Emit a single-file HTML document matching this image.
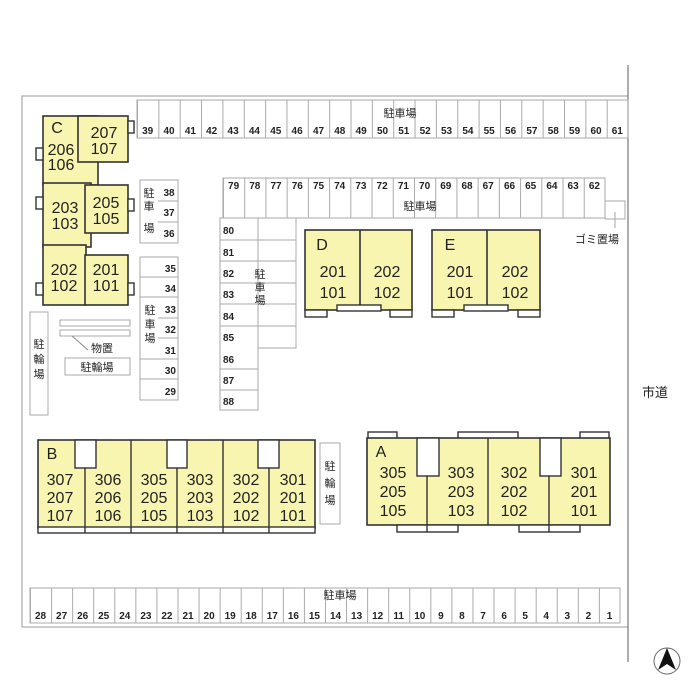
<!DOCTYPE html>
<html><head><meta charset="utf-8"><style>
html,body{margin:0;padding:0;background:#fff;}
svg{display:block;}
text{font-family:"Liberation Sans","Noto Sans CJK JP",sans-serif;fill:#222;}
.n{font-size:10px;text-anchor:middle;font-weight:bold;}
.u{font-size:16px;text-anchor:middle;}
.j{font-size:11px;text-anchor:middle;}
.b{fill:#f7f5b0;stroke:#333;stroke-width:1.6;}
.w{fill:#fff;stroke:#333;stroke-width:1.4;}
.g{fill:none;stroke:#999;stroke-width:1;}
</style></head><body>
<svg width="700" height="700" viewBox="0 0 700 700">
<defs>
<pattern id="p1" x="137" y="0" width="21.35" height="700" patternUnits="userSpaceOnUse"><line x1="0.5" y1="0" x2="0.5" y2="700" stroke="#aaa"/></pattern>
<pattern id="p2" x="223" y="0" width="21.22" height="700" patternUnits="userSpaceOnUse"><line x1="0.5" y1="0" x2="0.5" y2="700" stroke="#aaa"/></pattern>
<pattern id="p3" x="30" y="0" width="21.07" height="700" patternUnits="userSpaceOnUse"><line x1="0.5" y1="0" x2="0.5" y2="700" stroke="#aaa"/></pattern>
</defs>
<!-- boundary -->
<path d="M628,96 L22,96 L22,627 L628,627" class="g" stroke="#aaa"/>
<line x1="628" y1="65" x2="628" y2="662" stroke="#777" stroke-width="1.2"/>
<!-- top lot -->
<rect x="137" y="100" width="491" height="38" fill="url(#p1)" stroke="#aaa"/>
<text class="j" x="400" y="117">駐車場</text>
<g class="n">
<text x="147.7" y="134">39</text><text x="169" y="134">40</text><text x="190.4" y="134">41</text><text x="211.7" y="134">42</text><text x="233.1" y="134">43</text><text x="254.4" y="134">44</text><text x="275.8" y="134">45</text><text x="297.1" y="134">46</text><text x="318.5" y="134">47</text><text x="339.8" y="134">48</text><text x="361.2" y="134">49</text><text x="382.5" y="134">50</text><text x="403.8" y="134">51</text><text x="425.2" y="134">52</text><text x="446.5" y="134">53</text><text x="467.9" y="134">54</text><text x="489.2" y="134">55</text><text x="510.6" y="134">56</text><text x="531.9" y="134">57</text><text x="553.3" y="134">58</text><text x="574.6" y="134">59</text><text x="596" y="134">60</text><text x="617.3" y="134">61</text>
</g>
<!-- row 79-62 -->
<rect x="223" y="178" width="382" height="40" fill="url(#p2)" stroke="#aaa"/>
<text class="j" x="420" y="210">駐車場</text>
<g class="n">
<text x="233.6" y="189">79</text><text x="254.8" y="189">78</text><text x="276" y="189">77</text><text x="297.3" y="189">76</text><text x="318.5" y="189">75</text><text x="339.7" y="189">74</text><text x="360.9" y="189">73</text><text x="382.1" y="189">72</text><text x="403.4" y="189">71</text><text x="424.6" y="189">70</text><text x="445.8" y="189">69</text><text x="467" y="189">68</text><text x="488.2" y="189">67</text><text x="509.5" y="189">66</text><text x="530.7" y="189">65</text><text x="551.9" y="189">64</text><text x="573.1" y="189">63</text><text x="594.4" y="189">62</text>
</g>
<rect x="605" y="201" width="20" height="18" fill="#fff" stroke="#aaa"/>
<line x1="615" y1="212" x2="615" y2="228" stroke="#aaa"/>
<text class="j" x="597" y="243">ゴミ置場</text>
<!-- column 80-88 -->
<g stroke="#aaa" fill="none">
<rect x="220" y="218" width="38" height="192"/>
<rect x="258" y="218" width="38" height="130"/>
<line x1="220" y1="240" x2="296" y2="240"/><line x1="220" y1="261" x2="296" y2="261"/><line x1="220" y1="283" x2="296" y2="283"/><line x1="220" y1="304" x2="296" y2="304"/><line x1="220" y1="326" x2="296" y2="326"/><line x1="220" y1="369" x2="258" y2="369"/><line x1="220" y1="390" x2="258" y2="390"/>
</g>
<g class="n" style="text-anchor:start">
<text x="223" y="234">80</text><text x="223" y="256">81</text><text x="223" y="277">82</text><text x="223" y="298">83</text><text x="223" y="320">84</text><text x="223" y="341">85</text><text x="223" y="363">86</text><text x="223" y="384">87</text><text x="223" y="405">88</text>
</g>
<text class="j" x="260" y="278">駐</text><text class="j" x="260" y="291">車</text><text class="j" x="260" y="304">場</text>
<!-- D -->
<rect class="b" x="305" y="230" width="107" height="80"/>
<line x1="360" y1="230" x2="360" y2="310" stroke="#333" stroke-width="1.6"/>
<rect class="w" x="305" y="310" width="22" height="7"/><rect class="w" x="337" y="305" width="44" height="6"/><rect class="w" x="390" y="310" width="22" height="7"/>
<text class="u" x="322" y="250">D</text>
<text class="u" x="333" y="277">201</text><text class="u" x="333" y="298">101</text>
<text class="u" x="387" y="277">202</text><text class="u" x="387" y="298">102</text>
<!-- E -->
<rect class="b" x="432" y="230" width="108" height="80"/>
<line x1="487" y1="230" x2="487" y2="310" stroke="#333" stroke-width="1.6"/>
<rect class="w" x="432" y="310" width="22" height="7"/><rect class="w" x="464" y="305" width="44" height="6"/><rect class="w" x="518" y="310" width="22" height="7"/>
<text class="u" x="450" y="250">E</text>
<text class="u" x="460" y="277">201</text><text class="u" x="460" y="298">101</text>
<text class="u" x="515" y="277">202</text><text class="u" x="515" y="298">102</text>
<!-- C -->
<rect class="b" x="43" y="116" width="55" height="69"/>
<rect class="b" x="78" y="116" width="50" height="46"/>
<rect class="b" x="43" y="183" width="48" height="64"/>
<rect class="b" x="85" y="185" width="43" height="48"/>
<rect class="b" x="43" y="245" width="43" height="60"/>
<rect class="b" x="85" y="255" width="43" height="50"/>
<rect class="w" x="36" y="148" width="7" height="12"/><rect class="w" x="128" y="121" width="6" height="12"/>
<rect class="w" x="36" y="197" width="7" height="12"/><rect class="w" x="128" y="199" width="6" height="12"/>
<rect class="w" x="36" y="283" width="7" height="12"/><rect class="w" x="128" y="283" width="6" height="12"/>
<text class="u" x="57" y="133">C</text>
<text class="u" x="61" y="155">206</text><text class="u" x="61" y="170">106</text>
<text class="u" x="104" y="138">207</text><text class="u" x="104" y="154">107</text>
<text class="u" x="65" y="213">203</text><text class="u" x="65" y="229">103</text>
<text class="u" x="106" y="208">205</text><text class="u" x="106" y="224">105</text>
<text class="u" x="64" y="275">202</text><text class="u" x="64" y="291">102</text>
<text class="u" x="106" y="275">201</text><text class="u" x="106" y="291">101</text>
<!-- side lots -->
<rect x="140" y="180" width="38" height="63" fill="none" stroke="#aaa"/>
<line x1="158" y1="201" x2="178" y2="201" stroke="#aaa"/><line x1="158" y1="222" x2="178" y2="222" stroke="#aaa"/>
<g class="n"><text x="169" y="196">38</text><text x="169" y="216">37</text><text x="169" y="237">36</text></g>
<text class="j" x="149" y="197">駐</text><text class="j" x="149" y="210">車</text><text class="j" x="149" y="232">場</text>
<rect x="140" y="257" width="38" height="143" fill="none" stroke="#aaa"/>
<g stroke="#aaa"><line x1="140" y1="277" x2="178" y2="277"/><line x1="140" y1="297" x2="178" y2="297"/><line x1="158" y1="318" x2="178" y2="318"/><line x1="158" y1="338" x2="178" y2="338"/><line x1="140" y1="359" x2="178" y2="359"/><line x1="140" y1="379" x2="178" y2="379"/></g>
<g class="n" style="text-anchor:end"><text x="176" y="272">35</text><text x="176" y="292">34</text><text x="176" y="313">33</text><text x="176" y="333">32</text><text x="176" y="354">31</text><text x="176" y="374">30</text><text x="176" y="395">29</text></g>
<text class="j" x="150" y="314">駐</text><text class="j" x="150" y="328">車</text><text class="j" x="150" y="342">場</text>
<!-- bikes/shed -->
<rect x="30" y="312" width="18" height="103" fill="none" stroke="#aaa"/>
<text class="j" x="39" y="348">駐</text><text class="j" x="39" y="363">輪</text><text class="j" x="39" y="378">場</text>
<rect x="60" y="320" width="70" height="6" fill="none" stroke="#aaa"/><rect x="60" y="330" width="70" height="6" fill="none" stroke="#aaa"/>
<line x1="72" y1="336" x2="88" y2="350" stroke="#888"/>
<text class="j" x="102" y="352">物置</text>
<rect x="65" y="358" width="65" height="17" fill="none" stroke="#aaa"/>
<text class="j" x="97" y="371">駐輪場</text>
<!-- B -->
<rect class="b" x="38" y="440" width="277" height="88"/>
<rect class="w" x="38" y="527" width="277" height="6"/>
<g stroke="#333" stroke-width="1.4"><line x1="85" y1="468" x2="85" y2="533"/><line x1="131" y1="440" x2="131" y2="533"/><line x1="177" y1="468" x2="177" y2="533"/><line x1="223" y1="440" x2="223" y2="533"/><line x1="269" y1="468" x2="269" y2="533"/></g>
<rect class="w" x="75" y="440" width="21" height="28"/><rect class="w" x="167" y="440" width="20" height="28"/><rect class="w" x="258" y="440" width="21" height="28"/>
<text class="u" x="52" y="459">B</text>
<text class="u" x="60" y="485">307</text><text class="u" x="60" y="503">207</text><text class="u" x="60" y="521">107</text>
<text class="u" x="108" y="485">306</text><text class="u" x="108" y="503">206</text><text class="u" x="108" y="521">106</text>
<text class="u" x="154" y="485">305</text><text class="u" x="154" y="503">205</text><text class="u" x="154" y="521">105</text>
<text class="u" x="200" y="485">303</text><text class="u" x="200" y="503">203</text><text class="u" x="200" y="521">103</text>
<text class="u" x="246" y="485">302</text><text class="u" x="246" y="503">202</text><text class="u" x="246" y="521">102</text>
<text class="u" x="293" y="485">301</text><text class="u" x="293" y="503">201</text><text class="u" x="293" y="521">101</text>
<rect x="320" y="443" width="20" height="81" fill="none" stroke="#aaa"/>
<text class="j" x="330" y="470">駐</text><text class="j" x="330" y="487">輪</text><text class="j" x="330" y="504">場</text>
<!-- A -->
<rect class="w" x="368" y="432" width="29" height="7"/><rect class="w" x="458" y="432" width="60" height="7"/><rect class="w" x="580" y="432" width="29" height="7"/>
<rect class="b" x="367" y="438" width="243" height="87"/>
<rect class="w" x="397" y="525" width="61" height="7"/><rect class="w" x="519" y="525" width="61" height="7"/>
<g stroke="#333" stroke-width="1.4"><line x1="427" y1="476" x2="427" y2="532"/><line x1="488" y1="438" x2="488" y2="525"/><line x1="549" y1="476" x2="549" y2="532"/></g>
<rect class="w" x="417" y="438" width="22" height="38"/><rect class="w" x="540" y="438" width="21" height="38"/>
<text class="u" x="381" y="457">A</text>
<text class="u" x="393" y="478">305</text><text class="u" x="393" y="497">205</text><text class="u" x="393" y="516">105</text>
<text class="u" x="461" y="478">303</text><text class="u" x="461" y="497">203</text><text class="u" x="461" y="516">103</text>
<text class="u" x="514" y="478">302</text><text class="u" x="514" y="497">202</text><text class="u" x="514" y="516">102</text>
<text class="u" x="584" y="478">301</text><text class="u" x="584" y="497">201</text><text class="u" x="584" y="516">101</text>
<!-- bottom lot -->
<rect x="30" y="588" width="590" height="35" fill="url(#p3)" stroke="#aaa"/>
<text class="j" x="340" y="599">駐車場</text>
<g class="n">
<text x="40.5" y="619">28</text><text x="61.6" y="619">27</text><text x="82.7" y="619">26</text><text x="103.7" y="619">25</text><text x="124.8" y="619">24</text><text x="145.9" y="619">23</text><text x="166.9" y="619">22</text><text x="188" y="619">21</text><text x="209.1" y="619">20</text><text x="230.2" y="619">19</text><text x="251.2" y="619">18</text><text x="272.3" y="619">17</text><text x="293.4" y="619">16</text><text x="314.4" y="619">15</text><text x="335.5" y="619">14</text><text x="356.6" y="619">13</text><text x="377.7" y="619">12</text><text x="398.7" y="619">11</text><text x="419.8" y="619">10</text><text x="440.9" y="619">9</text><text x="461.9" y="619">8</text><text x="483" y="619">7</text><text x="504.1" y="619">6</text><text x="525.2" y="619">5</text><text x="546.2" y="619">4</text><text x="567.3" y="619">3</text><text x="588.4" y="619">2</text><text x="609.5" y="619">1</text>
</g>
<text class="j" x="655" y="397" style="font-size:13px">市道</text>
<circle cx="667" cy="661" r="13" fill="#fff" stroke="#666"/>
<path d="M667,648 L658,670 L667,664 L676,670 Z" fill="#111"/>
</svg>
</body></html>
